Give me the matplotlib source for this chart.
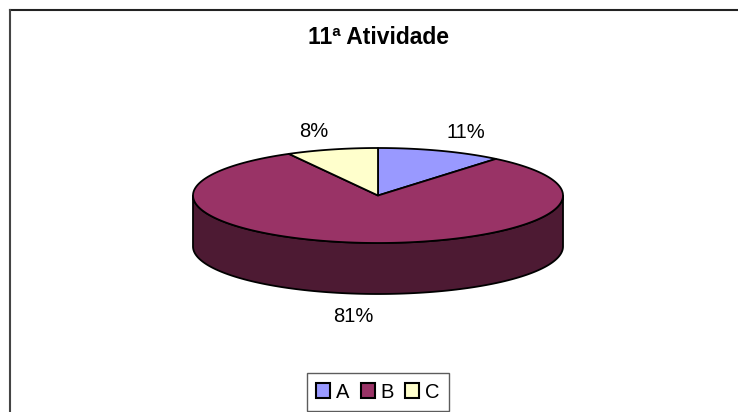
import numpy as np
import matplotlib.pyplot as plt
from matplotlib.patches import Polygon, Patch
from matplotlib.lines import Line2D

plt.rcParams['font.family'] = ['Liberation Sans', 'DejaVu Sans']

# data
categories = ['A', 'B', 'C']
shares = [11, 81, 8]
labels = ['11%', '81%', '8%']
colors = ['#9999FF', '#993366', '#FFFFCC']
title = '11ª Atividade'

# pie geometry (pixel space)
cx, cy = 378, 195.5
rx, ry = 185, 47.5
depth = 51

fig = plt.figure(figsize=(7.38, 4.12), dpi=100)
ax = fig.add_axes([0, 0, 1, 1])
ax.set_xlim(0, 738)
ax.set_ylim(412, 0)
ax.axis('off')


def darker(c, f=0.5):
    c = c.lstrip('#')
    r, g, b = [int(c[i:i + 2], 16) / 255 for i in (0, 2, 4)]
    return (r * f, g * f, b * f)


def pt(theta, dy=0.0):
    t = np.radians(theta)
    return cx + rx * np.cos(t), cy - ry * np.sin(t) + dy


fracs = np.array(shares, dtype=float) / sum(shares)
start = 90.0
spans = []
for f in fracs:
    end = start - 360 * f
    spans.append((start, end))
    start = end

# side walls (front half only: angles 180..360)
for (s, e), col in zip(spans, colors):
    lo, hi = min(s, e), max(s, e)
    for off in (-360, 0, 360):
        a0 = max(lo + off, 180)
        a1 = min(hi + off, 360)
        if a1 <= a0:
            continue
        th = np.linspace(a0, a1, 120)
        top = [pt(t) for t in th]
        bot = [pt(t, depth) for t in th[::-1]]
        ax.add_patch(Polygon(top + bot, closed=True, facecolor=darker(col),
                             edgecolor='black', linewidth=1.3, zorder=1))

# top faces
for (s, e), col in zip(spans, colors):
    th = np.linspace(s, e, 200)
    poly = [(cx, cy)] + [pt(t) for t in th]
    ax.add_patch(Polygon(poly, closed=True, facecolor=col,
                         edgecolor='black', linewidth=1.3, zorder=2,
                         joinstyle='round'))

# labels
for (s, e), lab in zip(spans, labels):
    mid = (s + e) / 2
    t = np.radians(mid)
    k = 1.4
    x = cx + rx * np.cos(t) * k
    y = cy - ry * np.sin(t) * k
    if np.sin(t) < 0:
        y += depth + 4
    ax.text(x, y, lab, ha='center', va='center', fontsize=14.5, color='black')

ax.text(cx, 37, title, ha='center', va='center', fontsize=16.5,
        fontweight='bold', color='black')

# chart frame (top and left edges)
ax.add_line(Line2D([10, 738], [10, 10], color='#222222', linewidth=1.5))
ax.add_line(Line2D([10, 10], [10, 412], color='#444444', linewidth=1.5))

handles = [Patch(facecolor=c, edgecolor='black', linewidth=1.5) for c in colors]
leg = fig.legend(handles, categories, ncol=3, loc='center',
                 bbox_to_anchor=(378 / 738, 1 - 392 / 412),
                 fontsize=14.5, frameon=True, fancybox=False,
                 handlelength=0.7, handleheight=0.7, handletextpad=0.3,
                 columnspacing=0.55, borderpad=0.45, borderaxespad=0)
leg.get_frame().set_edgecolor('#333333')
leg.get_frame().set_linewidth(1.0)

fig.savefig('out.png', dpi=100)
